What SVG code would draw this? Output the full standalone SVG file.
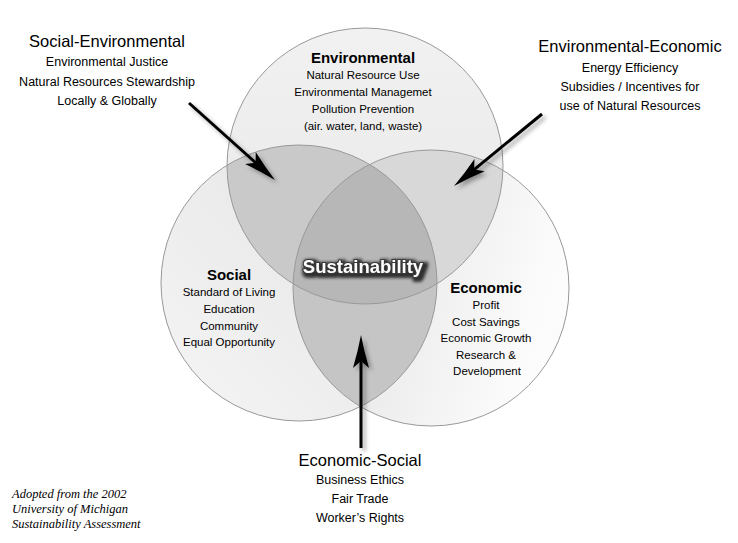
<svg xmlns="http://www.w3.org/2000/svg" width="738" height="543" viewBox="0 0 738 543">
<style>
.sans{font-family:"Liberation Sans",Arial,sans-serif;fill:#000;text-anchor:middle}
.head{font-size:16.5px}
.sub{font-size:12.5px}
.title{font-size:15px;font-weight:bold}
.item{font-size:11.5px}
.note{font-family:"Liberation Serif","Times New Roman",serif;font-style:italic;font-size:12.5px;fill:#000}
.outline{fill:none;stroke:#999;stroke-width:1}
.arrow{stroke:#000;stroke-width:3;fill:none;marker-end:url(#head)}
.sus{font-family:"Liberation Sans",Arial,sans-serif;font-weight:bold;font-size:18.5px;fill:#fff;stroke:#3a3a3a;stroke-width:2;paint-order:stroke;text-anchor:middle}
</style>
<defs>
<clipPath id="cEnv"><circle cx="365" cy="166" r="138"/></clipPath>
<clipPath id="cSoc"><circle cx="299" cy="283" r="138"/></clipPath>
<clipPath id="cEco"><circle cx="431" cy="288" r="138"/></clipPath>
<linearGradient id="gEnv" x1="0" y1="0" x2="0" y2="1"><stop offset="0" stop-color="#f1f1f1"/><stop offset="1" stop-color="#e8e8e8"/></linearGradient>
<linearGradient id="gSoc" x1="1" y1="0" x2="0" y2="1"><stop offset="0" stop-color="#e2e2e2"/><stop offset="1" stop-color="#f5f5f5"/></linearGradient>
<linearGradient id="gEco" x1="0" y1="0" x2="1" y2="0.3"><stop offset="0.3" stop-color="#e6e6e6"/><stop offset="1" stop-color="#fcfcfc"/></linearGradient>
<filter id="shadow" x="-30%" y="-30%" width="160%" height="160%"><feDropShadow dx="3" dy="3" stdDeviation="2" flood-color="#000" flood-opacity="0.35"/></filter>
<filter id="glow" x="-20%" y="-50%" width="140%" height="200%">
<feMorphology in="SourceAlpha" operator="dilate" radius="1.5" result="d"/>
<feGaussianBlur in="d" stdDeviation="1.6" result="b"/>
<feOffset in="b" dx="2" dy="2" result="o"/>
<feFlood flood-color="#1a1a1a" flood-opacity="0.85"/>
<feComposite in2="o" operator="in" result="s"/>
<feMerge><feMergeNode in="s"/><feMergeNode in="SourceGraphic"/></feMerge>
</filter>
<marker id="head" markerUnits="userSpaceOnUse" markerWidth="40" markerHeight="40" viewBox="-10 -10 40 20" refX="0" refY="0" orient="auto" overflow="visible">
<path d="M24,0 Q8,-3 -9,-8 L-2,0 L-9,8 Q8,3 24,0 Z" fill="#000"/>
</marker>
</defs>

<g id="fills">
<circle cx="365" cy="166" r="138" fill="url(#gEnv)"/>
<circle cx="299" cy="283" r="138" fill="url(#gSoc)"/>
<circle cx="431" cy="288" r="138" fill="url(#gEco)"/>
<circle cx="299" cy="283" r="138" fill="#c9c9c9" clip-path="url(#cEnv)"/>
<circle cx="431" cy="288" r="138" fill="#d8d8d8" clip-path="url(#cEnv)"/>
<circle cx="431" cy="288" r="138" fill="#c5c5c5" clip-path="url(#cSoc)"/>
<g clip-path="url(#cEnv)"><circle cx="431" cy="288" r="138" fill="#b7b7b7" clip-path="url(#cSoc)"/></g>
</g>

<g id="environmental">
<circle class="outline" cx="365" cy="166" r="138"/>
<text class="sans title" x="363" y="63">Environmental</text>
<text class="sans item" x="363" y="79">Natural Resource Use</text>
<text class="sans item" x="363" y="96">Environmental Managemet</text>
<text class="sans item" x="363" y="113">Pollution Prevention</text>
<text class="sans item" x="363" y="129.5">(air. water, land, waste)</text>
</g>

<g id="social">
<circle class="outline" cx="299" cy="283" r="138"/>
<text class="sans title" x="229" y="280">Social</text>
<text class="sans item" x="229" y="296">Standard of Living</text>
<text class="sans item" x="229" y="313">Education</text>
<text class="sans item" x="229" y="329.5">Community</text>
<text class="sans item" x="229" y="346">Equal Opportunity</text>
</g>

<g id="economic">
<circle class="outline" cx="431" cy="288" r="138"/>
<text class="sans title" x="486" y="293">Economic</text>
<text class="sans item" x="486" y="309">Profit</text>
<text class="sans item" x="486" y="325.5">Cost Savings</text>
<text class="sans item" x="486" y="342">Economic Growth</text>
<text class="sans item" x="486" y="359">Research &amp;</text>
<text class="sans item" x="487" y="375">Development</text>
</g>

<g id="sustainability">
<text class="sus" x="363" y="273" filter="url(#glow)">Sustainability</text>
</g>

<g id="social-environmental">
<text class="sans head" x="107" y="47">Social-Environmental</text>
<text class="sans sub" x="107" y="66">Environmental Justice</text>
<text class="sans sub" x="107" y="86">Natural Resources Stewardship</text>
<text class="sans sub" x="107" y="105">Locally &amp; Globally</text>
</g>

<g id="environmental-economic">
<text class="sans head" x="630" y="52">Environmental-Economic</text>
<text class="sans sub" x="630" y="72">Energy Efficiency</text>
<text class="sans sub" x="630" y="91">Subsidies / Incentives for</text>
<text class="sans sub" x="630" y="110">use of Natural Resources</text>
</g>

<g id="economic-social">
<text class="sans head" x="360" y="466">Economic-Social</text>
<text class="sans sub" x="360" y="484">Business Ethics</text>
<text class="sans sub" x="360" y="503">Fair Trade</text>
<text class="sans sub" x="360" y="522">Worker’s Rights</text>
</g>

<g id="note">
<text class="note" x="12" y="498">Adopted from the 2002</text>
<text class="note" x="12" y="513">University of Michigan</text>
<text class="note" x="12" y="528">Sustainability Assessment</text>
</g>

<g id="connectors" filter="url(#shadow)">
<line class="arrow" x1="189" y1="103" x2="257.1" y2="164"/>
<line class="arrow" x1="542" y1="114" x2="472.6" y2="170.8"/>
<line class="arrow" x1="361" y1="448" x2="361" y2="359"/>
</g>
</svg>
